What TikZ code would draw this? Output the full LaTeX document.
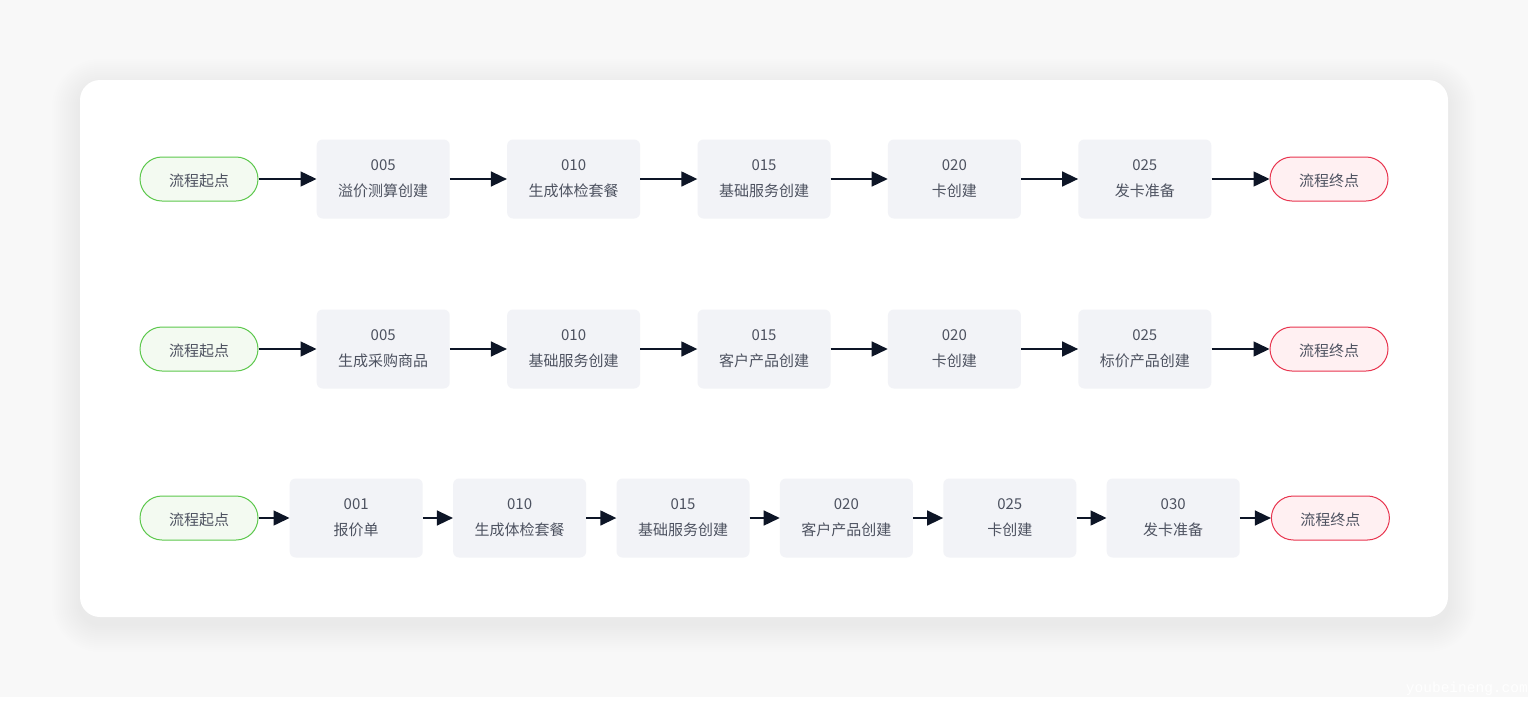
\documentclass[tikz,border=0pt]{standalone}
\usepackage{fontspec}
\setmainfont{Noto Sans CJK SC}
\newfontfamily\wmfont{Liberation Mono}
\usepackage{tikz}
\usetikzlibrary{positioning}
\usetikzlibrary{arrows.meta}
\definecolor{pagebg}{HTML}{F8F8F8}
\definecolor{boxfill}{HTML}{F2F3F7}
\definecolor{txt}{HTML}{4D5260}
\definecolor{startfill}{HTML}{F3FAF1}
\definecolor{startline}{HTML}{5CC84C}
\definecolor{endfill}{HTML}{FFF0F2}
\definecolor{endline}{HTML}{E8344E}
\definecolor{arrowc}{HTML}{0D1526}
\tikzset{
  stepbox/.style={shape=rectangle,fill=boxfill,rounded corners=6pt,minimum width=133pt,minimum height=79pt,
    inner sep=0,align=center,text=txt,font=\fontsize{15}{26}\selectfont,
    execute at begin node={\rule{0pt}{23pt}}},
  startpill/.style={shape=rectangle,draw=startline,fill=startfill,line width=1pt,rounded corners=22pt,
    minimum width=118pt,minimum height=44pt,inner sep=0,text=txt,font=\fontsize{15}{18}\selectfont,
    execute at begin node={\rule{0pt}{16pt}}},
  endpill/.style={startpill,draw=endline,fill=endfill},
  flow/.style={draw=arrowc,line width=1.5pt,-{Triangle[length=16pt,width=15pt]}}
}

\begin{document}
\begin{tikzpicture}[x=1pt,y=-1pt]
  \useasboundingbox (0,0) rectangle (1528,702);
  \fill[pagebg] (0,0) rectangle (1528,697);
  % card with soft shadow
  \foreach \i in {1,...,14}
    \fill[black,opacity=0.005,rounded corners=20+2*\i] (80-2*\i,87-2*\i) rectangle (1448+2*\i,624+2*\i);
  \fill[white,rounded corners=20pt] (80,80) rectangle (1448,617);

  % row 1
  \node[startpill] (s1) at (199,179) {流程起点};
  \node[stepbox,right=58pt of s1] (a1) {005\\溢价测算创建};
  \node[stepbox,right=57pt of a1] (a2) {010\\生成体检套餐};
  \node[stepbox,right=57pt of a2] (a3) {015\\基础服务创建};
  \node[stepbox,right=57pt of a3] (a4) {020\\卡创建};
  \node[stepbox,right=57pt of a4] (a5) {025\\发卡准备};
  \node[endpill,right=58pt of a5] (e1) {流程终点};
  \foreach \u/\v in {s1/a1,a1/a2,a2/a3,a3/a4,a4/a5,a5/e1}
    \draw[flow] (\u) -- (\v);

  % row 2
  \node[startpill] (s2) at (199,349) {流程起点};
  \node[stepbox,right=58pt of s2] (b1) {005\\生成采购商品};
  \node[stepbox,right=57pt of b1] (b2) {010\\基础服务创建};
  \node[stepbox,right=57pt of b2] (b3) {015\\客户产品创建};
  \node[stepbox,right=57pt of b3] (b4) {020\\卡创建};
  \node[stepbox,right=57pt of b4] (b5) {025\\标价产品创建};
  \node[endpill,right=58pt of b5] (e2) {流程终点};
  \foreach \u/\v in {s2/b1,b1/b2,b2/b3,b3/b4,b4/b5,b5/e2}
    \draw[flow] (\u) -- (\v);

  % row 3
  \node[startpill] (s3) at (199,518) {流程起点};
  \node[stepbox,right=31pt of s3] (c1) {001\\报价单};
  \node[stepbox,right=30pt of c1] (c2) {010\\生成体检套餐};
  \node[stepbox,right=30pt of c2] (c3) {015\\基础服务创建};
  \node[stepbox,right=30pt of c3] (c4) {020\\客户产品创建};
  \node[stepbox,right=30pt of c4] (c5) {025\\卡创建};
  \node[stepbox,right=30pt of c5] (c6) {030\\发卡准备};
  \node[endpill,right=31pt of c6] (e3) {流程终点};
  \foreach \u/\v in {s3/c1,c1/c2,c2/c3,c3/c4,c4/c5,c5/c6,c6/e3}
    \draw[flow] (\u) -- (\v);

  \node[anchor=base east,text=white,font=\wmfont\fontsize{14.5}{16}\selectfont,inner sep=0] (wm) at (1528,692) {youbeineng.com};
\end{tikzpicture}
\end{document}
